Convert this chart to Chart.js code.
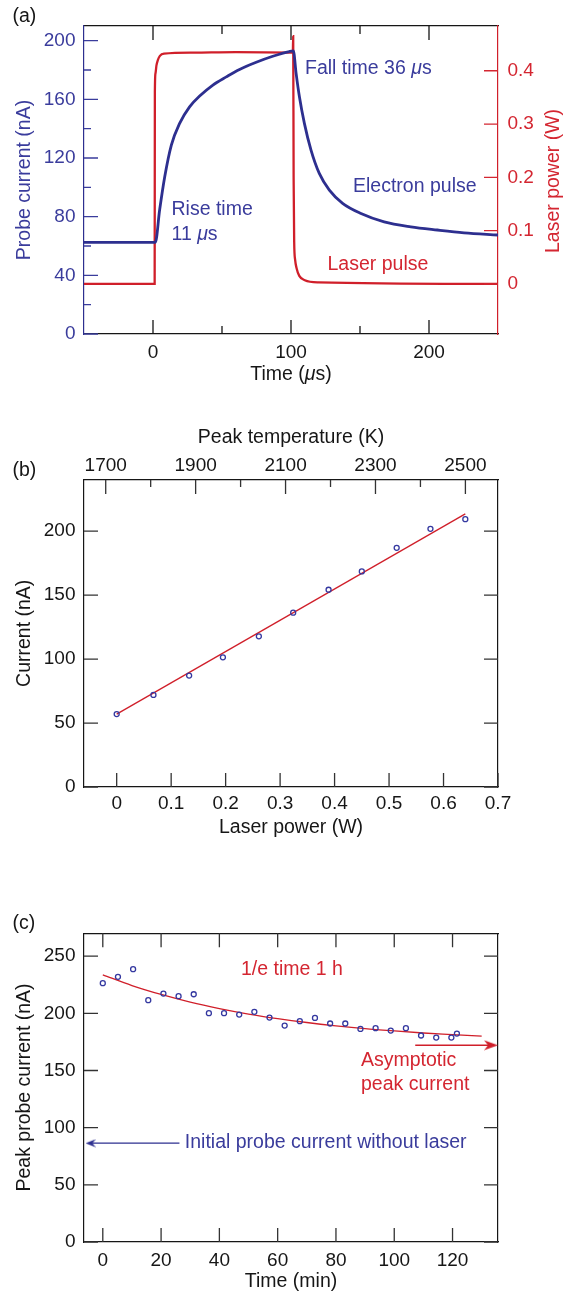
<!DOCTYPE html>
<html><head><meta charset="utf-8">
<script src="https://cdn.jsdelivr.net/npm/chart.js@4.4.1/dist/chart.umd.min.js"></script>
<style>
html,body{margin:0;padding:0;background:#fff;}
body{width:566px;height:1294px;position:relative;overflow:hidden;}
canvas{position:absolute;left:0;}
</style></head><body>
<canvas id="ca" width="566" height="400" style="top:0px"></canvas>
<canvas id="cb" width="566" height="440" style="top:400px"></canvas>
<canvas id="cc" width="566" height="454" style="top:840px"></canvas>
<script>
// ---------- Panel (a) data ----------
const electronTime    = [-50, 1.7, 4.8, 8.5, 13.3, 19.3, 26.5, 33.8, 43.4, 53.1, 62.7, 74.8, 86.8, 98.8, 101.7, 103.7, 106.1, 109.7, 114.5, 120.5, 127.8, 137.4, 150.7, 167.5, 186.8, 206.1, 225.4, 250];
const electronCurrent = [62.5, 62.5, 84.5, 107.2, 128.8, 143.6, 154.9, 162.2, 169.7, 175.3, 180.4, 185.3, 189.4, 192.6, 193.0, 177.7, 161.7, 143.6, 125.4, 109.5, 98.1, 89.1, 82.2, 76.5, 73.1, 70.9, 69.0, 67.5];
const laserTime  = [-50, 1.2, 1.35, 1.8, 2.5, 3.5, 5, 8, 30, 60, 101.3, 101.6, 101.9, 102.3, 103, 104, 106, 110, 120, 250];
const laserPower = [0, 0, 0.36, 0.395, 0.41, 0.42, 0.428, 0.432, 0.434, 0.435, 0.434, 0.465, 0.2, 0.08, 0.045, 0.03, 0.015, 0.007, 0.003, 0];
const aTimeTicks = [0, 100, 200];
const aTimeMinor = [50, 150];
const aCurrentTicks = [0, 40, 80, 120, 160, 200];
const aCurrentMinor = [20, 60, 100, 140, 180];
const aPowerTicks = [0, 0.1, 0.2, 0.3, 0.4];

// ---------- Panel (b) data ----------
const laserPowerW = [0, 0.0675, 0.133, 0.195, 0.261, 0.324, 0.389, 0.450, 0.514, 0.576, 0.640];
const currentNA   = [57.0, 72.0, 87.1, 101.4, 117.8, 136.3, 154.2, 168.5, 187.0, 201.8, 209.4];
const fitPowerW   = [0, 0.64];
const fitCurrentNA = [57.0, 213.5];
const bPowerTicks = [0, 0.1, 0.2, 0.3, 0.4, 0.5, 0.6, 0.7];
const bCurrentTicks = [0, 50, 100, 150, 200];
const bTempTicks = [1700, 1900, 2100, 2300, 2500];
const bTempMinor = [1800, 2000, 2200, 2400];

// ---------- Panel (c) data ----------
const timeMin = [0, 5.2, 10.4, 15.6, 20.8, 26.0, 31.2, 36.4, 41.6, 46.8, 52.0, 57.2, 62.4, 67.6, 72.8, 78.0, 83.2, 88.4, 93.6, 98.8, 104.0, 109.2, 114.4, 119.6, 121.5];
const peakCurrent = [226.4, 231.9, 238.6, 211.5, 217.3, 215.0, 216.7, 200.1, 200.1, 198.9, 201.3, 196.3, 189.3, 193.1, 196.0, 191.1, 191.1, 186.4, 187.0, 184.9, 187.0, 180.6, 178.8, 178.8, 182.3];
const decayFitTime = [0, 10, 20, 30, 40, 50, 60, 70, 80, 90, 100, 110, 120, 130];
const decayFitCurrent = [233.7, 224.3, 216.5, 209.8, 204.2, 199.4, 195.4, 192.0, 189.1, 186.6, 184.6, 182.8, 181.4, 180.0];
const asymptoteArrowTime = [107.2, 133.2];
const asymptoteLevel = 172.1;
const initialArrowTime = [26.3, -4.2];
const initialLevel = 86.4;
const cTimeTicks = [0, 20, 40, 60, 80, 100, 120];
const cCurrentTicks = [0, 50, 100, 150, 200, 250];

// ---------- styling ----------
const FONT = '"Liberation Sans", Arial, Helvetica, sans-serif';
const BLUE_LINE = '#2d2f8f', BLUE_TEXT = '#3a3c9c', BLUE_PT = '#3438a0';
const RED_LINE = '#d01f2a', RED_TEXT = '#d42631';
const BLACK = '#161616', TICKC = '#333333';
const TICK_FS = 19, TEXT_FS = 19.5;

const pts = (xs, ys) => xs.map((x, i) => ({x, y: ys[i]}));
const setTicks = vals => s => { s.ticks = vals.map(v => ({value: v})); };
const noTicks = s => { s.ticks = []; };

function tickPlugin(specs) {
  return { id: 'innerTicks', afterDraw(chart) {
    const ctx = chart.ctx, a = chart.chartArea;
    ctx.save();
    specs.forEach(sp => {
      const sc = chart.scales[sp.scale];
      ctx.strokeStyle = sp.color || TICKC;
      ctx.lineWidth = sp.width || 1.3;
      ctx.beginPath();
      sp.values.forEach(v => {
        const p = sc.getPixelForValue(v);
        if (sp.side === 'bottom') { ctx.moveTo(p, a.bottom); ctx.lineTo(p, a.bottom - sp.len); }
        else if (sp.side === 'top') { ctx.moveTo(p, a.top); ctx.lineTo(p, a.top + sp.len); }
        else if (sp.side === 'left') { ctx.moveTo(a.left, p); ctx.lineTo(a.left + sp.len, p); }
        else { ctx.moveTo(a.right, p); ctx.lineTo(a.right - sp.len, p); }
      });
      ctx.stroke();
    });
    ctx.restore();
  }};
}

function textPlugin(items) {
  return { id: 'texts', afterDraw(chart) {
    const ctx = chart.ctx;
    items.forEach(it => {
      ctx.save();
      ctx.translate(it.x, it.y);
      if (it.rot) ctx.rotate(it.rot * Math.PI / 180);
      ctx.fillStyle = it.color || BLACK;
      ctx.textBaseline = 'middle';
      ctx.textAlign = 'left';
      const size = it.size || TEXT_FS;
      const parts = it.text.split('*');
      const fontFor = i => (i % 2 ? 'italic ' : '') + size + 'px ' + FONT;
      let total = 0;
      parts.forEach((p, i) => { ctx.font = fontFor(i); total += ctx.measureText(p).width; });
      let x0 = it.align === 'center' ? -total / 2 : 0;
      parts.forEach((p, i) => { ctx.font = fontFor(i); ctx.fillText(p, x0, 0); x0 += ctx.measureText(p).width; });
      ctx.restore();
    });
  }};
}

function axisBase(extra) {
  return Object.assign({
    type: 'linear',
    grid: {display: false, drawTicks: false},
    border: {display: true, color: BLACK, width: 1.2},
    ticks: {font: {family: FONT, size: TICK_FS}, color: BLACK, padding: 8.5, callback: v => String(v)}
  }, extra);
}

const common = {
  responsive: false, animation: false, events: [],
  layout: {padding: 0},
  plugins: {legend: {display: false}, tooltip: {enabled: false}}
};

// ---------- Panel (a) ----------
new Chart(document.getElementById('ca'), {
  type: 'line',
  data: { datasets: [
    {data: pts(electronTime, electronCurrent), xAxisID: 'x', yAxisID: 'y', borderColor: BLUE_LINE, borderWidth: 2.8,
     pointRadius: 0, cubicInterpolationMode: 'monotone', fill: false},
    {data: pts(laserTime, laserPower), xAxisID: 'x', yAxisID: 'y2', borderColor: RED_LINE, borderWidth: 2.3,
     pointRadius: 0, cubicInterpolationMode: 'monotone', fill: false}
  ]},
  options: Object.assign({}, common, {
    scales: {
      x: axisBase({position: 'bottom', min: -50, max: 250, afterBuildTicks: setTicks(aTimeTicks),
        ticks: {font: {family: FONT, size: TICK_FS}, color: BLACK, padding: 7.5, callback: v => String(v)},
        afterFit: s => { s.height = 66; }}),
      xt: axisBase({axis: 'x', position: 'top', min: -50, max: 250, afterBuildTicks: noTicks,
        ticks: {display: false}, afterFit: s => { s.height = 26; }}),
      y: axisBase({position: 'left', min: 0, max: 210, afterBuildTicks: setTicks(aCurrentTicks),
        border: {display: true, color: BLUE_LINE, width: 1.2},
        ticks: {font: {family: FONT, size: TICK_FS}, color: BLUE_TEXT, padding: 8.5, callback: v => String(v)},
        afterFit: s => { s.width = 84; }}),
      y2: axisBase({position: 'right', min: -0.094, max: 0.484, afterBuildTicks: setTicks(aPowerTicks),
        border: {display: true, color: RED_LINE, width: 1.2},
        ticks: {font: {family: FONT, size: TICK_FS}, color: RED_TEXT, padding: 9.5, callback: v => String(v)},
        afterFit: s => { s.width = 68; }})
    }
  }),
  plugins: [
    tickPlugin([
      {scale: 'x', side: 'bottom', values: aTimeTicks, len: 14, color: BLACK},
      {scale: 'x', side: 'bottom', values: aTimeMinor, len: 8, color: BLACK},
      {scale: 'x', side: 'top', values: aTimeTicks, len: 14, color: BLACK},
      {scale: 'x', side: 'top', values: aTimeMinor, len: 8, color: BLACK},
      {scale: 'y', side: 'left', values: aCurrentTicks, len: 14, color: BLUE_TEXT},
      {scale: 'y', side: 'left', values: aCurrentMinor, len: 7, color: BLUE_TEXT},
      {scale: 'y2', side: 'right', values: aPowerTicks, len: 14, color: RED_TEXT}
    ]),
    textPlugin([
      {text: '(a)', x: 12.5, y: 17},
      {text: 'Probe current (nA)', x: 24.5, y: 180, rot: -90, align: 'center', color: BLUE_TEXT},
      {text: 'Laser power (W)', x: 554, y: 181, rot: -90, align: 'center', color: RED_TEXT},
      {text: 'Time (*μ*s)', x: 291, y: 374.5, align: 'center'},
      {text: 'Rise time', x: 171.5, y: 210, color: BLUE_TEXT},
      {text: '11 *μ*s', x: 171.5, y: 234.3, color: BLUE_TEXT},
      {text: 'Fall time 36 *μ*s', x: 305, y: 69, color: BLUE_TEXT},
      {text: 'Electron pulse', x: 353, y: 186.7, color: BLUE_TEXT},
      {text: 'Laser pulse', x: 327.5, y: 264.3, color: RED_TEXT}
    ])
  ]
});

// ---------- Panel (b) ----------
new Chart(document.getElementById('cb'), {
  type: 'line',
  data: { datasets: [
    {data: pts(laserPowerW, currentNA), xAxisID: 'x', yAxisID: 'y', showLine: false, pointStyle: 'circle',
     pointRadius: 2.5, pointBorderWidth: 1.3, pointBorderColor: BLUE_PT, pointBackgroundColor: 'rgba(255,255,255,0)'},
    {data: pts(fitPowerW, fitCurrentNA), xAxisID: 'x', yAxisID: 'y', borderColor: RED_LINE, borderWidth: 1.3, pointRadius: 0}
  ]},
  options: Object.assign({}, common, {
    scales: {
      x: axisBase({position: 'bottom', min: -0.06, max: 0.7, afterBuildTicks: setTicks(bPowerTicks),
        ticks: {font: {family: FONT, size: TICK_FS}, color: BLACK, padding: 5, callback: v => String(v)},
        afterFit: s => { s.height = 53; }}),
      xt: axisBase({axis: 'x', position: 'top', min: 1651.7, max: 2572.5, afterBuildTicks: setTicks(bTempTicks),
        ticks: {font: {family: FONT, size: TICK_FS}, color: BLACK, padding: 3, callback: v => String(v)},
        afterFit: s => { s.height = 80; }}),
      y: axisBase({position: 'left', min: 0, max: 240, afterBuildTicks: setTicks(bCurrentTicks),
        afterFit: s => { s.width = 84; }}),
      yr: axisBase({axis: 'y', position: 'right', min: 0, max: 240, afterBuildTicks: noTicks,
        ticks: {display: false}, afterFit: s => { s.width = 68; }})
    }
  }),
  plugins: [
    tickPlugin([
      {scale: 'x', side: 'bottom', values: bPowerTicks, len: 14},
      {scale: 'xt', side: 'top', values: bTempTicks, len: 14},
      {scale: 'xt', side: 'top', values: bTempMinor, len: 7},
      {scale: 'y', side: 'left', values: bCurrentTicks, len: 14},
      {scale: 'y', side: 'right', values: bCurrentTicks, len: 14}
    ]),
    textPlugin([
      {text: '(b)', x: 12.5, y: 70.5},
      {text: 'Peak temperature (K)', x: 291, y: 38, align: 'center'},
      {text: 'Current (nA)', x: 24.5, y: 233.3, rot: -90, align: 'center'},
      {text: 'Laser power (W)', x: 291, y: 427.5, align: 'center'}
    ])
  ]
});

// ---------- Panel (c) ----------
function arrowHead(color, dir, w, h, notch) {
  const c = document.createElement('canvas');
  c.width = w; c.height = h;
  const g = c.getContext('2d');
  g.fillStyle = color;
  g.beginPath();
  if (dir > 0) { g.moveTo(w, h / 2); g.lineTo(0, 0.5); g.lineTo(notch, h / 2); g.lineTo(0, h - 0.5); }
  else { g.moveTo(0, h / 2); g.lineTo(w, 0.5); g.lineTo(w - notch, h / 2); g.lineTo(w, h - 0.5); }
  g.closePath(); g.fill();
  return c;
}
const redHead = arrowHead(RED_LINE, 1, 14, 11, 4);
const blueHead = arrowHead(BLUE_LINE, -1, 10, 9, 3);

new Chart(document.getElementById('cc'), {
  type: 'line',
  data: { datasets: [
    {data: pts(timeMin, peakCurrent), xAxisID: 'x', yAxisID: 'y', showLine: false, pointStyle: 'circle',
     pointRadius: 2.5, pointBorderWidth: 1.3, pointBorderColor: BLUE_PT, pointBackgroundColor: 'rgba(255,255,255,0)'},
    {data: pts(decayFitTime, decayFitCurrent), xAxisID: 'x', yAxisID: 'y', borderColor: RED_LINE, borderWidth: 1.3,
     pointRadius: 0, cubicInterpolationMode: 'monotone'},
    {data: pts(asymptoteArrowTime, asymptoteArrowTime.map(() => asymptoteLevel)), xAxisID: 'x', yAxisID: 'y',
     borderColor: RED_LINE, borderWidth: 1.4, pointRadius: [0, 5], pointStyle: redHead, clip: false},
    {data: pts(initialArrowTime, initialArrowTime.map(() => initialLevel)), xAxisID: 'x', yAxisID: 'y',
     borderColor: BLUE_LINE, borderWidth: 1.2, pointRadius: [0, 5], pointStyle: blueHead, clip: false}
  ]},
  options: Object.assign({}, common, {
    scales: {
      x: axisBase({position: 'bottom', min: -6.45, max: 135.6, afterBuildTicks: setTicks(cTimeTicks),
        ticks: {font: {family: FONT, size: TICK_FS}, color: BLACK, padding: 7, callback: v => String(v)},
        afterFit: s => { s.height = 52; }}),
      xt: axisBase({axis: 'x', position: 'top', min: -6.45, max: 135.6, afterBuildTicks: noTicks,
        ticks: {display: false}, afterFit: s => { s.height = 93.3; }}),
      y: axisBase({position: 'left', min: 0, max: 270, afterBuildTicks: setTicks(cCurrentTicks),
        afterFit: s => { s.width = 84; }}),
      yr: axisBase({axis: 'y', position: 'right', min: 0, max: 270, afterBuildTicks: noTicks,
        ticks: {display: false}, afterFit: s => { s.width = 68; }})
    }
  }),
  plugins: [
    tickPlugin([
      {scale: 'x', side: 'bottom', values: cTimeTicks, len: 14},
      {scale: 'x', side: 'top', values: cTimeTicks, len: 14},
      {scale: 'y', side: 'left', values: cCurrentTicks, len: 14},
      {scale: 'y', side: 'right', values: cCurrentTicks, len: 14}
    ]),
    textPlugin([
      {text: '(c)', x: 12.5, y: 83.3},
      {text: 'Peak probe current (nA)', x: 24.5, y: 247.5, rot: -90, align: 'center'},
      {text: 'Time (min)', x: 291, y: 441.7, align: 'center'},
      {text: '1/e time 1 h', x: 241, y: 129.3, color: RED_TEXT},
      {text: 'Asymptotic', x: 361, y: 220.5, color: RED_TEXT},
      {text: 'peak current', x: 361, y: 244.2, color: RED_TEXT},
      {text: 'Initial probe current without laser', x: 184.8, y: 302.5, color: BLUE_TEXT}
    ])
  ]
});
</script>
</body></html>
